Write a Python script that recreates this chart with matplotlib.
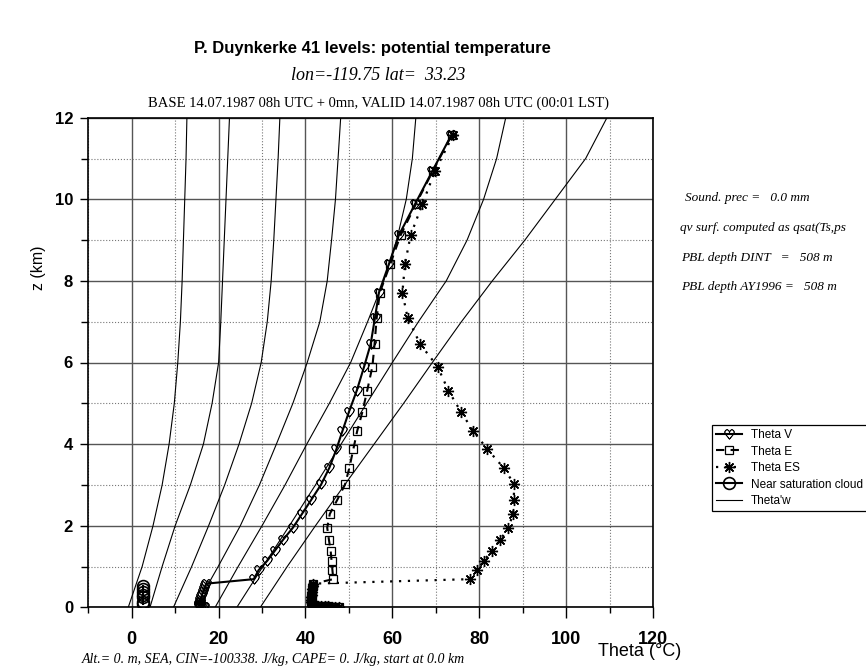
import numpy as np
import matplotlib
matplotlib.use('Agg')
import matplotlib.pyplot as plt

SANS = 'Liberation Sans'
SERIF = 'Liberation Serif'

# model levels (km)
z_lev = [0.005, 0.01, 0.015, 0.02, 0.025, 0.03, 0.04, 0.05, 0.07, 0.1, 0.14, 0.19,
         0.25, 0.31, 0.38, 0.45, 0.52, 0.58,
         0.69, 0.91, 1.14, 1.38, 1.65, 1.95, 2.29, 2.63, 3.01, 3.42, 3.87, 4.32,
         4.79, 5.31, 5.90, 6.45, 7.10, 7.71, 8.41, 9.12, 9.88, 10.69, 11.58]

theta_v = [16.6, 16.3, 16.0, 15.8, 15.6, 15.5, 15.4, 15.4, 15.5, 15.6, 15.7, 15.8,
           16.0, 16.2, 16.4, 16.6, 16.9, 17.2,
           28.1, 29.2, 31.2, 32.9, 34.8, 37.1, 39.2, 41.3, 43.6, 45.5, 47.1, 48.5,
           50.0, 51.8, 53.5, 55.0, 56.0, 56.9, 59.2, 61.5, 65.2, 69.2, 73.6]

theta_e = [47.6, 46.8, 46.0, 45.2, 44.4, 43.6, 42.8, 42.0, 41.6, 41.4, 41.3, 41.3,
           41.3, 41.4, 41.5, 41.6, 41.7, 41.8,
           46.4, 46.2, 46.0, 45.8, 45.4, 45.0, 45.6, 47.3, 49.1, 50.1, 51.0, 51.9,
           53.1, 54.2, 55.4, 55.9, 56.4, 57.1, 59.5, 61.9, 65.4, 69.3, 73.7]

theta_es = [47.6, 46.8, 46.0, 45.2, 44.4, 43.6, 42.8, 42.0, 41.6, 41.4, 41.3, 41.3,
            41.3, 41.4, 41.5, 41.6, 41.7, 41.8,
            77.9, 79.5, 81.0, 82.9, 84.8, 86.7, 87.8, 87.9, 88.1, 85.6, 81.9, 78.6,
            75.8, 72.9, 70.4, 66.4, 63.5, 62.3, 62.9, 64.2, 66.9, 69.8, 74.0]

# near saturation cloud points
z_cloud = [0.07, 0.14, 0.25, 0.31, 0.38, 0.45, 0.52]
theta_cloud = [2.7, 2.7, 2.7, 2.7, 2.7, 2.7, 2.7]

# theta'w curves, z in km
z_w = [0, 1, 2, 3, 4, 5, 6, 7, 8, 9, 10, 11, 12]
theta_w = [
    [-0.8, 2.4, 4.9, 7.0, 8.6, 9.8, 10.6, 11.2, 11.6, 11.9, 12.2, 12.5, 12.7],
    [4.2, 7.0, 10.0, 13.5, 16.5, 18.5, 20.0, 20.5, 20.9, 21.3, 21.7, 22.1, 22.5],
    [9.6, 13.8, 17.7, 21.4, 24.7, 27.6, 29.8, 31.2, 32.1, 32.7, 33.2, 33.7, 34.1],
    [14.6, 19.9, 25.0, 29.4, 33.3, 37.1, 40.4, 43.3, 45.0, 46.0, 46.9, 47.5, 48.1],
    [19.2, 24.5, 30.0, 35.3, 40.3, 45.5, 50.4, 54.3, 58.0, 61.0, 63.2, 64.6, 65.4],
    [24.2, 30.2, 36.3, 42.3, 48.2, 54.1, 60.0, 66.0, 72.4, 77.2, 81.0, 84.0, 86.1],
    [29.6, 35.8, 42.3, 49.0, 55.8, 62.6, 69.2, 75.9, 83.0, 90.5, 97.5, 104.5, 109.4],
]

fig = plt.figure(figsize=(8.66, 6.68), dpi=100)
ax = fig.add_axes([88.3 / 866, 1 - 607.3 / 668, (653 - 88.3) / 866, (607.3 - 117.7) / 668])

for i, tw in enumerate(theta_w):
    ax.plot(tw, z_w, color='black', lw=0.8, zorder=2,
            label="Theta'w" if i == 0 else None)

ax.plot(theta_v, z_lev, color='black', lw=1.5, marker=r'$\heartsuit$', ms=7,
        mfc='none', mec='black', mew=0.5, zorder=4, label='Theta V')
ax.plot(theta_e, z_lev, color='black', lw=1.5, ls=(0, (4, 3)), marker='s', ms=6,
        mfc='none', mec='black', mew=0.9, zorder=4, label='Theta E')
ax.plot(theta_es, z_lev, color='black', lw=1.6, ls=(0, (1, 3)), marker=(8, 2, 0),
        ms=8, mec='black', mew=1.0, zorder=4, label='Theta ES')
ax.plot(theta_cloud, z_cloud, color='black', lw=1.5, marker='o', ms=8.5,
        mfc='none', mec='black', mew=1.2, zorder=4, label='Near saturation cloud')

ax.set_xlim(-10, 120)
ax.set_ylim(0, 12)
ax.set_xticks(range(0, 121, 20))
ax.set_xticks(range(-10, 121, 10), minor=True)
ax.set_yticks(range(0, 13, 2))
ax.set_yticks(range(1, 12, 2), minor=True)
ax.grid(which='major', ls='-', color='#555555', lw=1.0, zorder=1)
ax.grid(which='minor', ls=':', color='#777777', lw=0.8, zorder=1)
ax.set_axisbelow(True)

ax.tick_params(axis='x', which='major', direction='out', length=8, width=1.0, pad=9)
ax.tick_params(axis='x', which='minor', direction='out', length=4.5, width=1.0)
ax.tick_params(axis='y', which='major', direction='out', length=6, width=1.0, pad=5)
ax.tick_params(axis='y', which='minor', direction='out', length=5, width=1.0)
for lab in ax.get_xticklabels():
    lab.set_fontfamily(SANS)
    lab.set_fontweight('bold')
    lab.set_fontsize(13)
for lab in ax.get_yticklabels():
    lab.set_fontfamily(SANS)
    lab.set_fontweight('bold')
    lab.set_fontsize(12)
for sp in ax.spines.values():
    sp.set_linewidth(1.2)
    sp.set_color('black')

# texts
fig.text(372 / 866, 1 - 48 / 668, 'P. Duynkerke 41 levels: potential temperature',
         ha='center', va='center', fontfamily=SANS, fontweight='bold', fontsize=12)
fig.text(378 / 866, 1 - 76 / 668, 'lon=-119.75 lat=  33.23', ha='center', va='center',
         fontfamily=SERIF, fontstyle='italic', fontsize=13)
fig.text(378 / 866, 1 - 103 / 668,
         'BASE 14.07.1987 08h UTC + 0mn, VALID 14.07.1987 08h UTC (00:01 LST)',
         ha='center', va='center', fontfamily=SERIF, fontsize=10.5)
fig.text(38 / 866, 1 - 268 / 668, 'z (km)', rotation=90, ha='center', va='center',
         fontfamily=SANS, fontsize=11.5)
fig.text(640 / 866, 1 - 651 / 668, 'Theta (°C)', ha='center', va='center',
         fontfamily=SANS, fontsize=13)
fig.text(82 / 866, 1 - 659 / 668,
         'Alt.= 0. m, SEA, CIN=-100338. J/kg, CAPE= 0. J/kg, start at 0.0 km',
         ha='left', va='center', fontfamily=SERIF, fontstyle='italic', fontsize=10)

side = ['Sound. prec =   0.0 mm',
        'qv surf. computed as qsat(Ts,ps',
        'PBL depth DINT   =   508 m',
        'PBL depth AY1996 =   508 m']
side_x = [685, 680, 681, 681]
side_y = [198, 228, 258, 287]
for s, sx, sy in zip(side, side_x, side_y):
    fig.text(sx / 866, 1 - sy / 668, s, ha='left', va='center',
             fontfamily=SERIF, fontstyle='italic', fontsize=9.5)

h, l = ax.get_legend_handles_labels()
order = [1, 2, 3, 4, 0]
leg = ax.legend([h[i] for i in order], [l[i] for i in order],
                loc='upper left', bbox_to_anchor=(711.7 / 866, 1 - 425 / 668),
                bbox_transform=fig.transFigure, numpoints=1, fancybox=False,
                edgecolor='black', framealpha=1, borderpad=0.35, labelspacing=0.38,
                handlelength=2.2, handletextpad=0.8, borderaxespad=0,
                prop={'family': SANS, 'size': 8.5})
leg.get_frame().set_linewidth(0.9)

fig.savefig('out.png', dpi=100)
